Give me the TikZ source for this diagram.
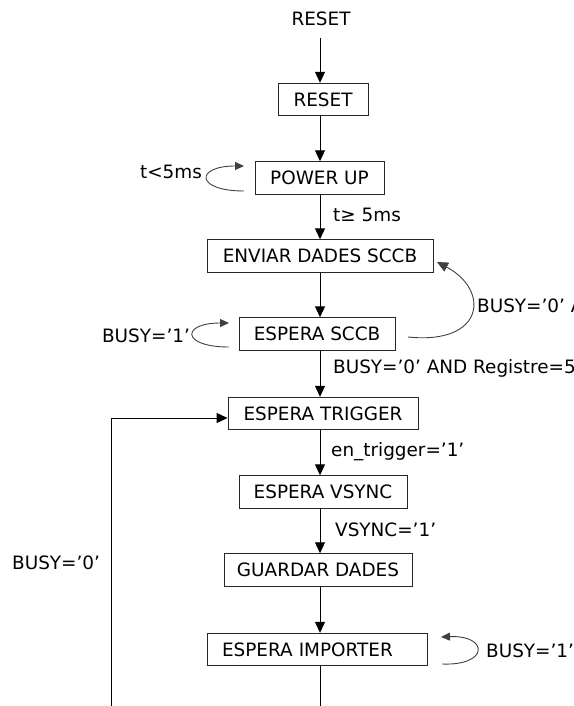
\documentclass[tikz,border=0pt]{standalone}
\usepackage{fontspec}
\setmainfont{DejaVu Sans}
\usetikzlibrary{arrows.meta}
\begin{document}
\begin{tikzpicture}[x=1pt,y=-1pt,
  every node/.style={font=\fontsize{18.4}{22}\selectfont, inner sep=0pt},
  box/.style={draw=black!85, line width=0.9pt, minimum height=32.5pt, anchor=center},
  lbl/.style={anchor=west},
  arr/.style={line width=1pt, -{Triangle[length=11pt,width=10pt]}},
  plain/.style={line width=1pt},
  loopy/.style={draw=black!75, line width=0.9pt, -{Triangle[length=9pt,width=8pt]}}]
\useasboundingbox (0,0) rectangle (573,706);
\coordinate (ax) at (320,0);
% nodes
\node (resetin) at (321,19) {RESET};
\node[box, minimum width=90pt] (reset) at (323,99.5) {RESET};
\node[box, minimum width=129pt] (power) at (319.5,178) {POWER UP};
\node[box, minimum width=226pt] (enviar) at (320,256) {ENVIAR DADES SCCB};
\node[box, minimum width=156pt] (esccb) at (317,334) {ESPERA SCCB};
\node[box, minimum width=190pt] (etrig) at (323,413.5) {ESPERA TRIGGER};
\node[box, minimum width=168pt] (evsync) at (323,492) {ESPERA VSYNC};
\node[box, minimum width=188pt] (guardar) at (318,570) {GUARDAR DADES};
\node[box, text width=190pt, inner xsep=15pt, align=left] (eimp) at (317,649.5) {ESPERA IMPORTER};
% labels
\node (lt) at (171,172) {t<5ms};
\node[lbl] (lge) at (333,215) {t≥ 5ms};
\node (lb1a) at (146,336) {BUSY=’1’};
\node[lbl] (lb0a) at (477,306) {BUSY=’0’ AND};
\node[lbl] (lb0b) at (333,368) {BUSY=’0’ AND Registre=5};
\node[lbl] (len) at (331,452) {en\_trigger=’1’};
\node[lbl] (lvs) at (335,530) {VSYNC=’1’};
\node[lbl] (lb0c) at (12,563) {BUSY=’0’};
\node[lbl] (lb1b) at (486,651) {BUSY=’1’};
% coordinates
\coordinate (top0) at (320,38);
\coordinate (botc) at (320,706);
\coordinate (lbot) at (111,706);
\coordinate (lcor) at (111,418);
\coordinate (p1s) at (244,191);
\coordinate (p1e) at (244,166);
\coordinate (s1s) at (229,347);
\coordinate (s1e) at (229,323);
\coordinate (rcs) at (408,337);
\coordinate (rce) at (437,262);
\coordinate (i1s) at (442,664);
\coordinate (i1e) at (441,637);
% vertical arrows
\draw[arr] (top0) -- (reset.north -| ax);
\draw[arr] (reset.south -| ax) -- (power.north -| ax);
\draw[arr] (power.south -| ax) -- (enviar.north -| ax);
\draw[arr] (enviar.south -| ax) -- (esccb.north -| ax);
\draw[arr] (esccb.south -| ax) -- (etrig.north -| ax);
\draw[arr] (etrig.south -| ax) -- (evsync.north -| ax);
\draw[arr] (evsync.south -| ax) -- (guardar.north -| ax);
\draw[arr] (guardar.south -| ax) -- (eimp.north -| ax);
\draw[plain] (eimp.south -| ax) -- (botc);
% return loop
\draw[arr] (lbot) -- (lcor) -- (lcor -| etrig.west);
% self loops
\draw[loopy] (p1s) .. controls (195,191) and (195,166) .. (p1e);
\draw[loopy] (s1s) .. controls (181,347) and (181,323) .. (s1e);
\draw[loopy] (i1s) .. controls (489,666) and (489,635) .. (i1e);
% back to enviar
\draw[loopy, -{Triangle[length=11pt,width=10pt]}] (rcs) .. controls (485,345) and (490,290) .. (rce);
\end{tikzpicture}
\end{document}
